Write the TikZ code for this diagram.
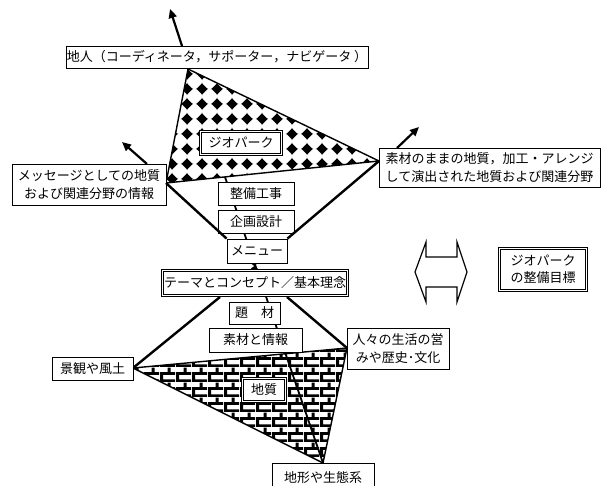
\documentclass[tikz,border=0pt]{standalone}
\usepackage{fontspec}
\setmainfont{Noto Sans CJK JP}
\usetikzlibrary{patterns,arrows.meta,calc}
\pgfdeclarepatternformonly{geodiamonds}{\pgfpointorigin}{\pgfqpoint{15pt}{15pt}}{\pgfqpoint{15pt}{15pt}}{%
  \pgfpathmoveto{\pgfqpoint{7.5pt}{0.8pt}}%
  \pgfpathlineto{\pgfqpoint{9.3pt}{5.7pt}}%
  \pgfpathlineto{\pgfqpoint{14.2pt}{7.5pt}}%
  \pgfpathlineto{\pgfqpoint{9.3pt}{9.3pt}}%
  \pgfpathlineto{\pgfqpoint{7.5pt}{14.2pt}}%
  \pgfpathlineto{\pgfqpoint{5.7pt}{9.3pt}}%
  \pgfpathlineto{\pgfqpoint{0.8pt}{7.5pt}}%
  \pgfpathlineto{\pgfqpoint{5.7pt}{5.7pt}}%
  \pgfpathclose
  \pgfpathmoveto{\pgfqpoint{7.5pt}{1.6pt}}%
  \pgfpathlineto{\pgfqpoint{13.4pt}{7.5pt}}%
  \pgfpathlineto{\pgfqpoint{7.5pt}{13.4pt}}%
  \pgfpathlineto{\pgfqpoint{1.6pt}{7.5pt}}%
  \pgfpathclose
  \pgfusepath{fill}}
\pgfdeclarepatternformonly{geobricks}{\pgfpointorigin}{\pgfqpoint{16pt}{14.6pt}}{\pgfqpoint{16pt}{14.6pt}}{%
  \pgfpathrectangle{\pgfqpoint{0pt}{0pt}}{\pgfqpoint{16pt}{2.8pt}}%
  \pgfpathrectangle{\pgfqpoint{0pt}{7.3pt}}{\pgfqpoint{16pt}{2.8pt}}%
  \pgfpathrectangle{\pgfqpoint{0pt}{0pt}}{\pgfqpoint{3.2pt}{7.3pt}}%
  \pgfpathrectangle{\pgfqpoint{8pt}{7.3pt}}{\pgfqpoint{3.2pt}{7.3pt}}%
  \pgfusepath{fill}}
\begin{document}
\begin{tikzpicture}[x=1pt,y=-1pt,
  txt/.style={font=\fontsize{13pt}{17.5pt}\selectfont},
  box/.style 2 args={draw,fill=white,line width=0.8pt,inner sep=0pt,
    minimum width=#1,minimum height=#2,txt,align=center},
  dbox/.style 2 args={draw,double,double distance=1.6pt,line width=0.7pt,
    fill=white,inner sep=0pt,minimum width=#1,minimum height=#2,txt,align=center},
  heavy/.style={line width=2.4pt},
  edge/.style={line width=1.4pt},
  arr/.style={line width=2.2pt,-{Triangle[length=9pt,width=8pt]}}]
\useasboundingbox (0,0) rectangle (607,486);
% triangle vertices
\coordinate (gtop) at (188,69);
\coordinate (gleft) at (166,183);
\coordinate (gright) at (379,161);
\coordinate (bleft) at (133,368);
\coordinate (bright) at (347,348);
\coordinate (bbot) at (323,463);
% lower triangle (bricks)
\fill[white] (bleft) -- (bright) -- (bbot) -- cycle;
\fill[pattern=geobricks] (bleft) -- (bright) -- (bbot) -- cycle;
\draw[edge,line join=miter] (bleft) -- (bright) -- (bbot) -- cycle;
% long central line
\draw[line width=1.8pt] (gtop) -- (bbot);
% upper triangle (diamonds)
\fill[white] (gtop) -- (gright) -- (gleft) -- cycle;
\fill[pattern=geodiamonds] (gtop) -- (gright) -- (gleft) -- cycle;
\draw[edge,line join=miter] (gtop) -- (gright) -- (gleft) -- cycle;
% arrows
\coordinate (a1s) at (182,46); \coordinate (a1e) at (170,9);
\coordinate (a2s) at (147,164); \coordinate (a2e) at (122,142);
\coordinate (a3s) at (397,148); \coordinate (a3e) at (419,127);
\draw[arr] (a1s) -- (a1e);
\draw[arr] (a2s) -- (a2e);
\draw[arr] (a3s) -- (a3e);
% nodes
\node[box={302pt}{22pt}] (jinin) at (217,57) {地人（コーディネータ，サポーター，ナビゲータ ）};
\node[dbox={81pt}{23pt}] (geopark) at (241,143) {ジオパーク};
\node[box={154pt}{41pt}] (msg) at (89,184.5) {メッセージとしての地質\\および関連分野の情報};
\node[box={221pt}{39pt}] (sozai) at (489.5,167.5) {素材のままの地質，加工・アレンジ\\して演出された地質および関連分野};
\node[box={76pt}{23pt}] (seibi) at (256,193.5) {整備工事};
\node[box={76pt}{23pt}] (kikaku) at (256,221.5) {企画設計};
\node[box={60pt}{24pt}] (menu) at (257,251) {メニュー};
% connectors from the upper triangle to the menu
\draw[heavy] (gleft) -- (menu.north west);
\draw[heavy] (gright) -- (menu.north east);
\node[box={60pt}{24pt}] at (menu) {メニュー};
\node[dbox={185pt}{25pt}] (theme) at (255,283) {テーマとコンセプト／基本理念};
\fill (250.5,263) -- (258,263) -- (254.2,266) -- cycle;
\fill (250.5,269) -- (258,269) -- (254.2,266) -- cycle;
\coordinate (thl) at (220,297);
\coordinate (thr) at (287,297);
\draw[heavy] (thl) -- (bleft);
\draw[heavy] (thr) -- (bright);
\node[box={51pt}{22pt}] (daizai) at (254.5,313) {題　材};
\node[box={93pt}{24pt}] (sozaijoho) at (255.5,340) {素材と情報};
\node[box={81pt}{23pt}] (keikan) at (92.5,368.5) {景観や風土};
\node[box={102pt}{41pt}] (hitobito) at (398,348.5) {人々の生活の営\\みや歴史･文化};
\node[dbox={43pt}{23pt}] (chishitsu) at (264,390) {地質};
\node[box={102pt}{30pt}] (chikei) at (323,478) {地形や生態系};
\node[dbox={87pt}{42pt}] (goal) at (543,269.5) {ジオパーク\\の整備目標};
% double-headed block arrow
\draw[line width=1.2pt,line join=miter]
  (415,272) -- (426,242) -- (426,257) -- (457,257) -- (457,242) -- (467,272)
  -- (457,302) -- (457,287) -- (426,287) -- (426,302) -- cycle;
\end{tikzpicture}
\end{document}
